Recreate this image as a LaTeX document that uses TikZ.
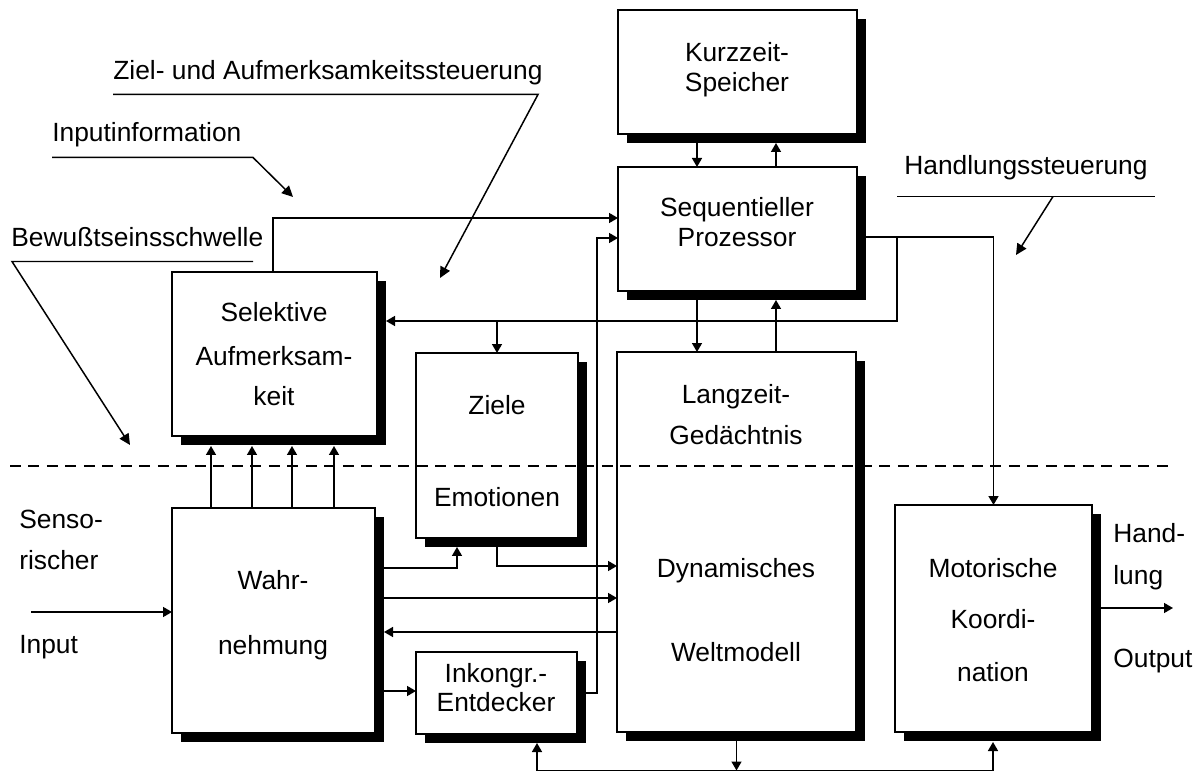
\documentclass[tikz,border=0pt]{standalone}
\usepackage{fontspec}
\setmainfont{Liberation Sans}
\usetikzlibrary{arrows.meta,shadows,calc}
\newcommand{\mkbox}[5]{\node[box, minimum width={(#4-#2)*0.02cm}, minimum height={(#5-#3)*0.02cm}] (#1) at ({(#2+#4)/2},{(#3+#5)/2}) {};}
\begin{document}
\begin{tikzpicture}[x=0.02cm,y=-0.02cm,
  font=\fontsize{15}{18}\selectfont,
  box/.style={draw, fill=white, line width=0.9pt, inner sep=0pt, outer sep=0pt,
    drop shadow={shadow xshift=0.17cm, shadow yshift=-0.18cm, fill=black, opacity=1}},
  txt/.style={anchor=base, inner sep=0pt},
  ltxt/.style={anchor=base west, inner sep=0pt},
  arr/.style={line width=0.85pt, -{Triangle[length=1.8mm,width=2mm]}},
  dbl/.style={line width=0.85pt, {Triangle[length=1.8mm,width=2mm]}-{Triangle[length=1.8mm,width=2mm]}},
  ann/.style={line width=0.85pt, -{Triangle[length=2.2mm,width=2.1mm]}},
  uline/.style={line width=0.85pt},
  thr/.style={line width=0.85pt, dash pattern=on 0.22cm off 0.15cm}
]
\useasboundingbox (0,0) rectangle (1204,773);

% boxes
\mkbox{kz}{618}{10}{857}{134}
\mkbox{sp}{618}{167}{857}{291}
\mkbox{sa}{172}{272}{377}{436}
\mkbox{ze}{416}{353}{578}{538}
\mkbox{lz}{617}{352}{856}{732}
\mkbox{wn}{172}{508}{375}{733}
\mkbox{ie}{416}{652}{577}{734}
\mkbox{mk}{895}{505}{1092}{732}

% box texts
\node[txt] (kz1) at (737,62) {Kurzzeit-};
\node[txt] (kz2) at (737,92) {Speicher};
\node[txt] (sp1) at (737,217) {Sequentieller};
\node[txt] (sp2) at (737,247) {Prozessor};
\node[txt] (sa1) at (274,322) {Selektive};
\node[txt] (sa2) at (274,366) {Aufmerksam-};
\node[txt] (sa3) at (274,406) {keit};
\node[txt] (ze1) at (497,415) {Ziele};
\node[txt] (ze2) at (497,506) {Emotionen};
\node[txt] (lz1) at (736,404) {Langzeit-};
\node[txt] (lz2) at (736,445) {Gedächtnis};
\node[txt] (lz3) at (736,577) {Dynamisches};
\node[txt] (lz4) at (736,661) {Weltmodell};
\node[txt] (ie1) at (496,682) {Inkongr.-};
\node[txt] (ie2) at (496,711) {Entdecker};
\node[txt] (wn1) at (273,589) {Wahr-};
\node[txt] (wn2) at (273,654) {nehmung};
\node[txt] (mk1) at (993,577) {Motorische};
\node[txt] (mk2) at (993,628) {Koordi-};
\node[txt] (mk3) at (993,681) {nation};

% side labels
\node[ltxt] (si1) at (19,528) {Senso-};
\node[ltxt] (si2) at (19,569) {rischer};
\node[ltxt] (si3) at (19,653) {Input};
\node[ltxt] (ho1) at (1113,542) {Hand-};
\node[ltxt] (ho2) at (1113,584) {lung};
\node[ltxt] (ho3) at (1113,667) {Output};

% annotations
\node[ltxt] (an1) at (113,80) {Ziel- und Aufmerksamkeitssteuerung};
\node[ltxt] (an2) at (52,142) {Inputinformation};
\node[ltxt] (an3) at (11,247) {Bewußtseinsschwelle};
\node[ltxt] (an4) at (904,175) {Handlungssteuerung};

\coordinate (u1a) at (113,94.5); \coordinate (u1b) at (538,94.5); \coordinate (t1) at (440,278);
\draw[ann] (u1a) -- (u1b) -- (t1);
\coordinate (u2a) at (52,157.5); \coordinate (u2b) at (253,157.5); \coordinate (t2) at (293,197);
\draw[ann] (u2a) -- (u2b) -- (t2);
\coordinate (u3a) at (253,261.5); \coordinate (u3b) at (12,261.5); \coordinate (t3) at (130,445);
\draw[ann] (u3a) -- (u3b) -- (t3);
\coordinate (u4a) at (897,196.5); \coordinate (u4b) at (1155,196.5);
\coordinate (u4c) at (1053,196.5); \coordinate (t4) at (1016,255);
\draw[uline] (u4a) -- (u4b);
\draw[ann] (u4c) -- (t4);

% connectors
\coordinate (xa) at (697,0); \coordinate (xb) at (776,0);
\draw[arr] (kz.south -| xa) -- (sp.north -| xa);
\draw[arr] (sp.north -| xb) -- ($(kz.south -| xb)+(0,9)$);
\draw[arr] (sp.south -| xa) -- (lz.north -| xa);
\draw[arr] (lz.north -| xb) -- ($(sp.south -| xb)+(0,9)$);

\coordinate (c1) at (273,218);
\draw[arr] (sa.north -| c1) -- (c1) -- (sp.west |- c1);

\coordinate (c2) at (597,238);
\draw[arr] (ie.east) -| (c2) -- (sp.west |- c2);

\coordinate (c3) at (897,237);
\draw[arr] (sp.east |- c3) -| (mk.north);
\coordinate (c4) at (897,321);
\draw[arr] (c3) -- (c4) -- ($(sa.east |- c4)+(9,0)$);
\draw[arr] (ze.north |- c4) -- (ze.north);

\foreach \x [count=\i] in {211,252,292,334} {
  \coordinate (w\i) at (\x,0);
  \draw[arr] (wn.north -| w\i) -- ($(sa.south -| w\i)+(0,10)$);
}

\coordinate (in0) at (31,612);
\draw[arr] (in0) -- (wn.west |- in0);

\coordinate (c5) at (457,568);
\draw[arr] (wn.east |- c5) -| ($(ze.south -| c5)+(0,9)$);
\coordinate (c6) at (497,566);
\draw[arr] (ze.south) |- (lz.west |- c6);

\coordinate (c7) at (0,598); \coordinate (c8) at (0,632); \coordinate (c9) at (0,691);
\draw[arr] (wn.east |- c7) -- (lz.west |- c7);
\draw[arr] (lz.west |- c8) -- ($(wn.east |- c8)+(9,0)$);
\draw[arr] (wn.east |- c9) -- (ie.west |- c9);

\coordinate (bl) at (537,770.5); \coordinate (br) at (993,770.5);
\draw[arr] (lz.south) -- (lz.south |- bl);
\draw[dbl] ($(ie.south -| bl)+(0,9)$) -- (bl) -- (br) -- ($(mk.south -| br)+(0,10)$);

\coordinate (out) at (1173,608);
\draw[arr] (mk.east |- out) -- (out);

% threshold
\coordinate (d1) at (10,466); \coordinate (d2) at (1175,466);
\draw[thr] (d1) -- (d2);
\end{tikzpicture}
\end{document}
